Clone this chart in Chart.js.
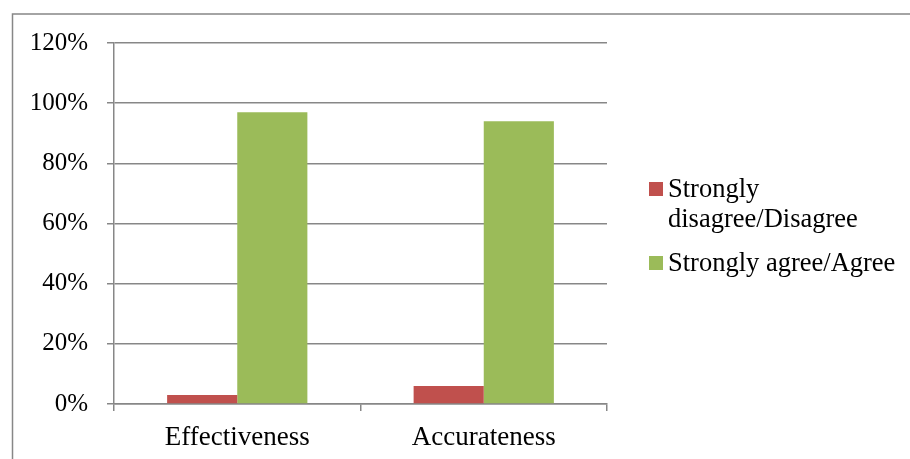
<!DOCTYPE html>
<html>
<head>
<meta charset="utf-8">
<script src="https://cdn.jsdelivr.net/npm/chart.js@4/dist/chart.umd.min.js"></script>
<style>
  html, body { margin: 0; padding: 0; background: #fff; }
  #wrap { width: 910px; height: 459px; position: relative; }
</style>
</head>
<body>
<div id="wrap"><canvas id="chart"></canvas></div>
<script>
// values
const categories = ['Effectiveness', 'Accurateness'];
const disagree = [0.03, 0.06];
const agree = [0.97, 0.94];
const seriesNames = [['Strongly', 'disagree/Disagree'], ['Strongly agree/Agree']];
const seriesColors = ['#C0504D', '#9BBB59'];

const GRID = '#878787';
const FONT = "'Liberation Serif', 'Times New Roman', serif";

// frame + legend drawn on the canvas
const framePlugin = {
  id: 'frame',
  beforeDraw(chart) {
    const ctx = chart.ctx;
    ctx.save();
    ctx.strokeStyle = GRID;
    ctx.lineWidth = 1.5;
    ctx.beginPath();
    ctx.moveTo(12.5, 470);
    ctx.lineTo(12.5, 14);
    ctx.lineTo(920, 14);
    ctx.stroke();
    ctx.restore();
  },
  afterDraw(chart) {
    const ctx = chart.ctx;
    ctx.save();
    ctx.font = '26.5px ' + FONT;
    ctx.textBaseline = 'alphabetic';
    let y = 197;
    chart.data.datasets.forEach((ds, i) => {
      ctx.fillStyle = ds.backgroundColor;
      ctx.fillRect(649, y - 15, 14, 14);
      ctx.fillStyle = '#000';
      const lines = seriesNames[i];
      lines.forEach((t, j) => ctx.fillText(t, 668, y + j * 30));
      y += lines.length * 30 + 14;
    });
    ctx.restore();
  }
};

new Chart(document.getElementById('chart'), {
  type: 'bar',
  data: {
    labels: categories,
    datasets: [
      { label: seriesNames[0].join(' '), data: disagree, backgroundColor: seriesColors[0] },
      { label: seriesNames[1].join(' '), data: agree, backgroundColor: seriesColors[1] }
    ]
  },
  options: {
    responsive: true,
    maintainAspectRatio: false,
    animation: false,
    layout: { padding: { left: 0, top: 43, right: 303, bottom: 0 } },
    datasets: { bar: { categoryPercentage: 0.569, barPercentage: 1.0 } },
    plugins: { legend: { display: false }, tooltip: { enabled: false } },
    scales: {
      x: {
        grid: { display: true, drawOnChartArea: false, drawTicks: true, tickLength: 7, color: GRID, offset: true, lineWidth: 1.5 },
        border: { color: GRID, width: 1.5 },
        ticks: { color: '#000', font: { family: FONT, size: 27 }, padding: 11 },
        afterFit(scale) { scale.height = 55; }
      },
      y: {
        min: 0,
        max: 1.2,
        grid: { color: GRID, lineWidth: 1.5, tickLength: 7 },
        border: { color: GRID, width: 1.5 },
        ticks: {
          stepSize: 0.2,
          color: '#000',
          font: { family: FONT, size: 25 },
          padding: 19,
          callback: v => Math.round(v * 100) + '%'
        },
        afterFit(scale) { scale.width = 114; }
      }
    }
  },
  plugins: [framePlugin]
});
</script>
</body>
</html>
